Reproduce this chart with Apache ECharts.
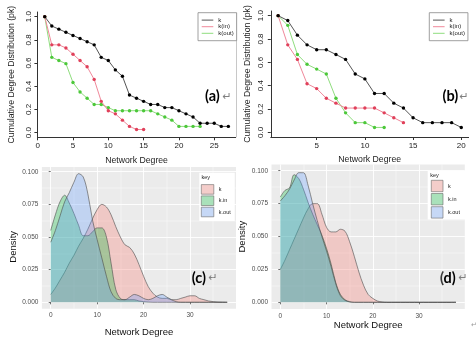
<!DOCTYPE html>
<html><head><meta charset="utf-8">
<script src="https://cdn.jsdelivr.net/npm/echarts@6/dist/echarts.min.js"></script>
<style>html,body{margin:0;padding:0;background:#fff}#c{width:476px;height:337px}</style>
</head><body><div id="c"></div><script>
// ---- Panel (a): cumulative degree distribution ----
const degKA = [1,2,3,4,5,6,7,8,9,10,11,12,13,14,15,16,17,18,19,20,21,22,23,24,25,26,27];
const kA = [1.0,0.919,0.892,0.865,0.838,0.811,0.784,0.757,0.649,0.622,0.541,0.486,0.324,0.297,0.270,0.243,0.243,0.216,0.216,0.189,0.162,0.135,0.081,0.081,0.081,0.054,0.054];
const degInA = [1,2,3,4,5,6,7,8,9,10,11,12,13,14,15];
const kinA = [1.0,0.757,0.757,0.730,0.676,0.622,0.568,0.459,0.270,0.189,0.162,0.108,0.054,0.027,0.027];
const degOutA = [1,2,3,4,5,6,7,8,9,10,11,12,13,14,15,16,17,18,19,20,21,22,23];
const koutA = [1.0,0.649,0.622,0.595,0.432,0.351,0.297,0.243,0.243,0.216,0.189,0.189,0.189,0.189,0.189,0.189,0.162,0.135,0.108,0.054,0.054,0.054,0.054];
// ---- Panel (b) ----
const degKB = [1,2,3,4,5,6,7,8,9,10,11,12,13,14,15,16,17,18,19,20];
const kB = [1.0,0.958,0.833,0.750,0.708,0.708,0.667,0.625,0.500,0.458,0.333,0.333,0.250,0.208,0.125,0.083,0.083,0.083,0.083,0.042];
const degInB = [1,2,3,4,5,6,7,8,9,10,11,12,13,14];
const kinB = [1.0,0.750,0.625,0.417,0.375,0.292,0.250,0.208,0.208,0.208,0.208,0.167,0.125,0.083];
const degOutB = [1,2,3,4,5,6,7,8,9,10,11,12];
const koutB = [1.0,0.917,0.667,0.583,0.542,0.500,0.292,0.167,0.083,0.083,0.042,0.042];
// ---- Panels (c),(d): densities ----
const densX = [0,1,2,3,4,5,6,7,8,9,10,11,12,13,14,15,16,17,18,19,20,21,22,23,24,25,26,27,28,29,30,31,32,33,34,35,36,37,38];
const denKc = [0.006,0.011,0.017,0.023,0.030,0.036,0.043,0.049,0.056,0.064,0.071,0.075,0.073,0.067,0.058,0.050,0.044,0.042,0.037,0.029,0.020,0.012,0.007,0.004,0.003,0.003,0.002,0.002,0.003,0.004,0.005,0.005,0.003,0.002,0.001,0.0005,0.0002,0.0001,0];
const denKinC = [0.055,0.067,0.077,0.082,0.076,0.068,0.059,0.051,0.051,0.054,0.057,0.057,0.050,0.030,0.010,0.003,0.002,0.002,0.002,0.001,0.0005,0.0002,0,0,0,0,0,0,0,0,0,0,0,0,0,0,0,0,0];
const denKoutC = [0.046,0.055,0.066,0.077,0.084,0.092,0.0985,0.096,0.083,0.063,0.048,0.034,0.020,0.008,0.003,0.002,0.002,0.004,0.006,0.005,0.003,0.002,0.003,0.005,0.006,0.004,0.002,0.0005,0,0,0,0,0,0,0,0,0,0,0];
const denKd = [0.025,0.032,0.040,0.048,0.056,0.064,0.071,0.075,0.075,0.067,0.057,0.0535,0.0535,0.0555,0.054,0.046,0.035,0.023,0.013,0.006,0.003,0.001,0.0003,0,0,0,0,0,0,0,0,0,0,0,0,0,0,0,0];
const denKinD = [0.080,0.085,0.087,0.097,0.094,0.086,0.076,0.067,0.059,0.051,0.041,0.029,0.015,0.006,0.002,0.0005,0,0,0,0,0,0,0,0,0,0,0,0,0,0,0,0,0,0,0,0,0,0,0];
const denKoutD = [0.077,0.081,0.086,0.093,0.0985,0.0985,0.089,0.075,0.062,0.050,0.039,0.027,0.014,0.005,0.0015,0.0003,0,0,0,0,0,0,0,0,0,0,0,0,0,0,0,0,0,0,0,0,0,0,0];
// ---- tick labels ----
const cumYTicks = [0,0.2,0.4,0.6,0.8,1.0];
const aXTicks = [0,5,10,15,20,25];
const bXTicks = [5,10,15,20];
const denXTicks = [0,10,20,30];
const denXMinor = [5,15,25,35];
const denYTicks = [0,0.025,0.05,0.075,0.1];
const denYMinor = [0.0125,0.0375,0.0625,0.0875];
const cumNames = ['k','k(in)','k(out)'];
const denNames = ['k','k.in','k.out'];

const FF = 'Liberation Sans, Arial, sans-serif';
const pairs = (xs, ys) => ys.map((y, i) => [xs[i], y]);
const ptCol = ['#000000', '#E0405A', '#4CC83A'];
const lnCol = ['#555555', '#F0889A', '#8FDD7E'];
const fillCol = ['#F8766D', '#00BA38', '#619CFF'];
const keyCol = ['#F4CDCA', '#A9E1BA', '#C6D8F6'];

const grids = [
  {left:37.4, top:12, width:198.3, height:125.3},
  {left:270.8, top:11, width:197.8, height:126},
  {left:41.9, top:166.9, width:194.1, height:141.8, show:true, backgroundColor:'#EBEBEB', borderWidth:0},
  {left:271.5, top:164.4, width:193.3, height:144.5, show:true, backgroundColor:'#EBEBEB', borderWidth:0}
].map(g => Object.assign({outerBoundsMode:'none', containLabel:false}, g));

function cumX(gi, min, max, ticks, gap) {
  return {type:'value', gridIndex:gi, min, max,
    axisLine:{show:true, onZero:false, lineStyle:{color:'#333', width:1}},
    axisTick:{show:true, length:3, customValues:ticks, lineStyle:{color:'#333'}},
    axisLabel:{customValues:ticks, fontSize:8, color:'#222', margin:4.5, fontFamily:FF},
    splitLine:{show:false},
    name:'Network Degree', nameLocation:'middle', nameGap:gap,
    nameTextStyle:{fontSize:8.7, color:'#222', fontFamily:FF}};
}
function cumY(gi, margin, gap) {
  return {type:'value', gridIndex:gi, min:-0.04, max:1.04,
    axisLine:{show:true, onZero:false, lineStyle:{color:'#333', width:1}},
    axisTick:{show:true, length:3, customValues:cumYTicks, lineStyle:{color:'#333'}},
    axisLabel:{customValues:cumYTicks, rotate:90, fontSize:8, color:'#222', margin, fontFamily:FF, formatter:v => v.toFixed(1)},
    splitLine:{show:false},
    name:'Cumulative Degree Distribution (pk)', nameLocation:'middle', nameGap:gap,
    nameTextStyle:{fontSize:8.7, color:'#222', fontFamily:FF}};
}
function denX(gi, gap) {
  return {type:'value', gridIndex:gi, min:-1.9, max:39.9,
    axisLine:{show:false},
    axisTick:{show:true, length:2, customValues:denXTicks, lineStyle:{color:'#333', width:0.7}},
    axisLabel:{customValues:denXTicks, fontSize:6.5, color:'#4D4D4D', margin:3.5, fontFamily:FF},
    splitLine:{show:true, lineStyle:{color:'#FFFFFF', width:0.9}},
    name:'Network Degree', nameLocation:'middle', nameGap:gap,
    nameTextStyle:{fontSize:9.5, color:'#111', fontFamily:FF}};
}
function denXm(gi) {
  return {type:'value', gridIndex:gi, min:-1.9, max:39.9, axisLine:{show:false},
    axisTick:{show:false, customValues:denXMinor}, axisLabel:{show:false},
    splitLine:{show:true, lineStyle:{color:'#FFFFFF', width:0.45}}};
}
function denY(gi, min, max, gap, pad) {
  return {type:'value', gridIndex:gi, min, max,
    axisLine:{show:false},
    axisTick:{show:true, length:2, customValues:denYTicks, lineStyle:{color:'#333', width:0.7}},
    axisLabel:{customValues:denYTicks, fontSize:6.5, color:'#4D4D4D', margin:3.5, fontFamily:FF, formatter:v => v.toFixed(3)},
    splitLine:{show:true, lineStyle:{color:'#FFFFFF', width:0.9}},
    name:'Density', nameLocation:'middle', nameGap:gap,
    nameTextStyle:{fontSize:9.5, color:'#111', fontFamily:FF, padding:pad}};
}
function denYm(gi, min, max) {
  return {type:'value', gridIndex:gi, min, max, axisLine:{show:false},
    axisTick:{show:false, customValues:denYMinor}, axisLabel:{show:false},
    splitLine:{show:true, lineStyle:{color:'#FFFFFF', width:0.45}}};
}

const xAxes = [cumX(0, -0.04, 28.04, aXTicks, 19), cumX(1, 0.24, 20.76, bXTicks, 18),
  denX(2, 18.3), denX(3, 8.6), denXm(2), denXm(3)];
const yAxes = [cumY(0, 5, 21.4), cumY(1, 5.8, 18.8),
  denY(2, -0.0049, 0.1037, 21.2, [0, 18, 0, 0]), denY(3, -0.005, 0.1048, 20, 0),
  denYm(2, -0.0049, 0.1037), denYm(3, -0.005, 0.1048)];

function cumSeries(ai, i, xs, ys) {
  return {type:'line', name:cumNames[i], xAxisIndex:ai, yAxisIndex:ai, data:pairs(xs, ys),
    symbol:'circle', symbolSize:3.4, itemStyle:{color:ptCol[i]},
    lineStyle:{color:lnCol[i], width:1}, z:3 + (2 - i)};
}
function denSeries(ai, i, ys) {
  return {type:'line', name:'den_' + denNames[i], xAxisIndex:ai, yAxisIndex:ai, data:pairs(densX, ys),
    smooth:0.35, symbol:'none', itemStyle:{color:fillCol[i]},
    lineStyle:{color:'#4a4a4a', width:0.7, opacity:0.85},
    areaStyle:{color:fillCol[i], opacity:0.3}, z:2 + i};
}
const series = [
  cumSeries(0, 2, degOutA, koutA), cumSeries(0, 1, degInA, kinA), cumSeries(0, 0, degKA, kA),
  cumSeries(1, 2, degOutB, koutB), cumSeries(1, 1, degInB, kinB), cumSeries(1, 0, degKB, kB),
  denSeries(2, 0, denKc), denSeries(2, 1, denKinC), denSeries(2, 2, denKoutC),
  denSeries(3, 0, denKd), denSeries(3, 1, denKinD), denSeries(3, 2, denKoutD)
];

function cumLegend(left) {
  return {left, top:12.7, orient:'vertical', selectedMode:false,
    data: cumNames.map((n, i) => ({name:n, icon:'rect', itemStyle:{color:lnCol[i], borderWidth:0}})),
    itemWidth:11.6, itemHeight:1, itemGap:0, padding:[4.1, 3, 4.1, 3.7],
    backgroundColor:'#FFFFFF', borderColor:'#888', borderWidth:0.8,
    textStyle:{fontSize:6, lineHeight:6.6, color:'#222', fontFamily:FF}};
}
function denLegend(left, top, w, h, gap, pad) {
  return {left, top, orient:'vertical', selectedMode:false,
    data: denNames.map((n, i) => ({name:'den_' + n, icon:'rect',
      itemStyle:{color:keyCol[i], borderColor:'#6a6a6a', borderWidth:0.6}})),
    formatter: n => n.slice(4),
    itemWidth:w, itemHeight:h, itemGap:gap, padding:pad,
    backgroundColor:'#FFFFFF', borderWidth:0,
    textStyle:{fontSize:5.5, color:'#222', fontFamily:FF}};
}

const graphic = [
  {type:'text', x:205, y:96.7, style:{text:'(a)', font:'bold 14.5px Lato, sans-serif', fill:'#000', verticalAlign:'middle'}},
  {type:'text', x:222.5, y:97, style:{text:'↵', font:'11px "DejaVu Sans", sans-serif', fill:'#808080', verticalAlign:'middle'}},
  {type:'text', x:442.5, y:96.7, style:{text:'(b)', font:'bold 14.5px Lato, sans-serif', fill:'#000', verticalAlign:'middle'}},
  {type:'text', x:459.5, y:97, style:{text:'↵', font:'11px "DejaVu Sans", sans-serif', fill:'#808080', verticalAlign:'middle'}},
  {type:'text', x:191.7, y:278, style:{text:'(c)', font:'bold 14.5px Lato, sans-serif', fill:'#000', verticalAlign:'middle'}},
  {type:'text', x:208.5, y:278, style:{text:'↵', font:'11px "DejaVu Sans", sans-serif', fill:'#808080', verticalAlign:'middle'}},
  {type:'text', x:440, y:278, style:{text:'(d)', font:'bold 14.5px Lato, sans-serif', fill:'#000', verticalAlign:'middle'}},
  {type:'text', x:458.5, y:278, style:{text:'↵', font:'11px "DejaVu Sans", sans-serif', fill:'#808080', verticalAlign:'middle'}},
  {type:'text', x:471, y:325, style:{text:'↵', font:'7px "DejaVu Sans", sans-serif', fill:'#999', verticalAlign:'middle'}},
  {type:'text', x:201.5, y:177.3, z:100, style:{text:'key', font:'5.5px "Liberation Sans", sans-serif', fill:'#222', verticalAlign:'middle'}},
  {type:'text', x:430.3, y:175.5, z:100, style:{text:'key', font:'5.5px "Liberation Sans", sans-serif', fill:'#222', verticalAlign:'middle'}},
  {type:'line', shape:{x1:236.5, y1:13, x2:236.5, y2:137}, style:{stroke:'#C8C8C8', lineWidth:1}}
];

const chart = echarts.init(document.getElementById('c'), null, {renderer:'canvas'});
chart.setOption({
  animation:false,
  backgroundColor:'#FFFFFF',
  grid: grids,
  xAxis: xAxes,
  yAxis: yAxes,
  legend: [cumLegend(198), cumLegend(429.3),
    denLegend(199.3, 172.7, 12.5, 9.6, 1.1, [11.6, 4, 4, 1.7]),
    denLegend(427.7, 171, 11.7, 11.4, 1.2, [9, 5.6, 1, 3.3])],
  graphic,
  series
});
</script></body></html>
